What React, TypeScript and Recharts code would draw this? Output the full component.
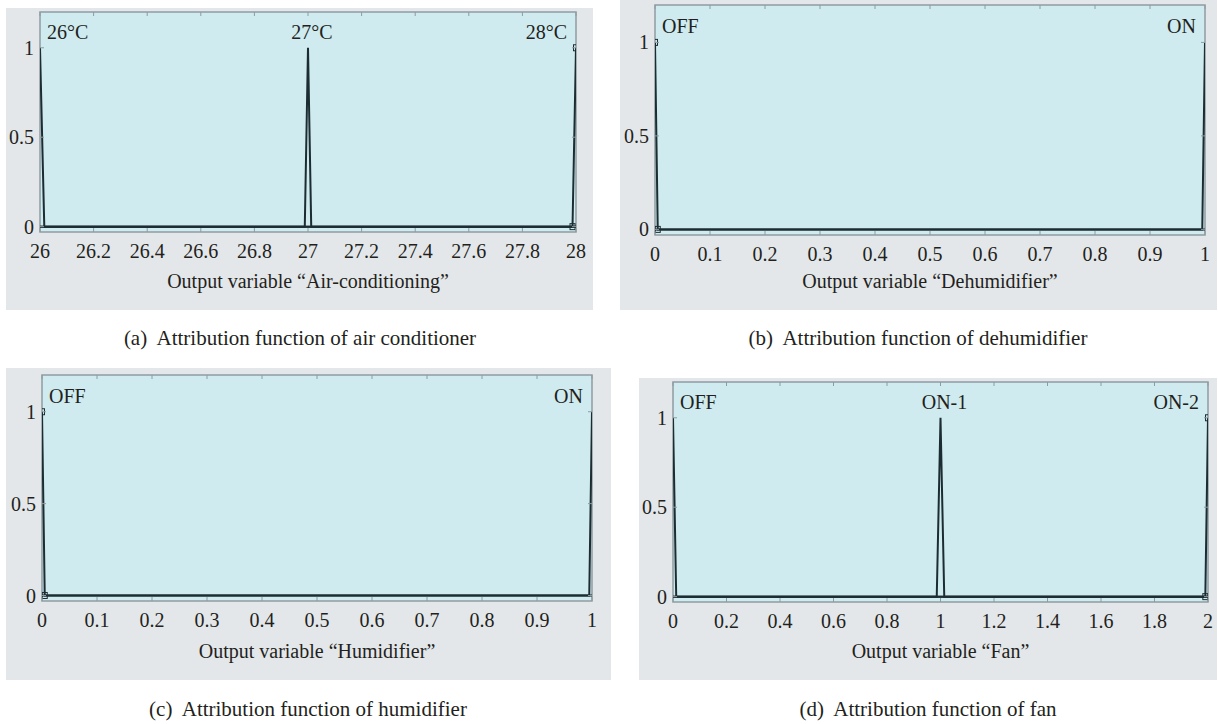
import React from "react";
import { LineChart, Line, XAxis, YAxis, ReferenceArea, ReferenceDot } from "recharts";

const FONT = '"Liberation Serif", "Times New Roman", serif';
const PANEL_BG = "#e4e7ea";
const PLOT_BG = "#cfebf0";
const BORDER = "#8e9ca1";
const INK = "#1c2d32";
const TEXT = "#231f20";

type Pt = { x: number; y: number };

// shared y axis
const yTicks = [0, 0.5, 1];
const yMin = -0.03;
const yMax = 1.2;

// (a) air conditioner
const acTicks = [26, 26.2, 26.4, 26.6, 26.8, 27, 27.2, 27.4, 27.6, 27.8, 28];
const acNames = ["26°C", "27°C", "28°C"];
const acPeaks = [26, 27, 28];
const ac26: Pt[] = [{ x: 26, y: 1 }, { x: 26.016, y: 0 }, { x: 28, y: 0 }];
const ac27: Pt[] = [{ x: 26, y: 0 }, { x: 26.988, y: 0 }, { x: 27, y: 1 }, { x: 27.012, y: 0 }, { x: 28, y: 0 }];
const ac28: Pt[] = [{ x: 26, y: 0 }, { x: 27.987, y: 0 }, { x: 28, y: 1 }];
const ac28Vertices: Pt[] = [{ x: 27.987, y: 0 }, { x: 28, y: 1 }];

// (b) dehumidifier
const unitTicks = [0, 0.1, 0.2, 0.3, 0.4, 0.5, 0.6, 0.7, 0.8, 0.9, 1];
const switchNames = ["OFF", "ON"];
const switchPeaks = [0, 1];
const dehumOff: Pt[] = [{ x: 0, y: 1 }, { x: 0.005, y: 0 }, { x: 1, y: 0 }];
const dehumOn: Pt[] = [{ x: 0, y: 0 }, { x: 0.995, y: 0 }, { x: 1, y: 1 }];
const dehumOffVertices: Pt[] = [{ x: 0, y: 1 }, { x: 0.005, y: 0 }];

// (c) humidifier
const humOff: Pt[] = [{ x: 0, y: 1 }, { x: 0.005, y: 0 }, { x: 1, y: 0 }];
const humOn: Pt[] = [{ x: 0, y: 0 }, { x: 0.995, y: 0 }, { x: 1, y: 1 }];
const humOffVertices: Pt[] = [{ x: 0, y: 1 }, { x: 0.005, y: 0 }];

// (d) fan
const fanTicks = [0, 0.2, 0.4, 0.6, 0.8, 1, 1.2, 1.4, 1.6, 1.8, 2];
const fanNames = ["OFF", "ON-1", "ON-2"];
const fanPeaks = [0, 1, 2];
const fanOff: Pt[] = [{ x: 0, y: 1 }, { x: 0.012, y: 0 }, { x: 2, y: 0 }];
const fanOn1: Pt[] = [{ x: 0, y: 0 }, { x: 0.986, y: 0 }, { x: 1, y: 1 }, { x: 1.014, y: 0 }, { x: 2, y: 0 }];
const fanOn2: Pt[] = [{ x: 0, y: 0 }, { x: 1.99, y: 0 }, { x: 2, y: 1 }];
const fanOn2Vertices: Pt[] = [{ x: 1.99, y: 0 }, { x: 2, y: 1 }];

const FONT_SIZE = 20;
const X_MARGIN = 12;
const Y_MARGIN = 6;
const TICK_LEN = 4;

interface Rect {
  left: number;
  top: number;
  width: number;
  height: number;
}

interface PanelProps {
  box: Rect;
  plot: Rect; // relative to box
  xTicks: number[];
  series: Pt[][];
  selected: Pt[];
  names: string[];
  peaks: number[];
  title: string;
}

// little square handles MATLAB draws on the selected membership function
const renderHandle = (p: any) => (
  <rect key={p.index} x={p.cx - 2.5} y={p.cy - 3} width={5} height={6} fill="none" stroke={INK} strokeWidth={1} />
);

const Panel = ({ box, plot, xTicks, series, selected, names, peaks, title }: PanelProps) => {
  const xMin = xTicks[0];
  const xMax = xTicks[xTicks.length - 1];
  const rightMargin = box.width - plot.left - plot.width;
  const axisH = box.height - plot.top - plot.height;

  const renderXTick = (p: any) => {
    const axisY = p.y - X_MARGIN;
    return (
      <g>
        <line x1={p.x} x2={p.x} y1={axisY} y2={axisY - TICK_LEN} stroke={BORDER} />
        <line x1={p.x} x2={p.x} y1={axisY - plot.height} y2={axisY - plot.height + TICK_LEN} stroke={BORDER} />
        <text x={p.x} y={p.y} dy="0.71em" textAnchor="middle" fill={TEXT} style={{ fontFamily: FONT, fontSize: FONT_SIZE }}>
          {p.payload.value}
        </text>
      </g>
    );
  };

  const renderYTick = (p: any) => {
    const axisX = p.x + Y_MARGIN;
    return (
      <g>
        <line x1={axisX} x2={axisX + TICK_LEN} y1={p.y} y2={p.y} stroke={BORDER} />
        <line x1={axisX + plot.width} x2={axisX + plot.width - TICK_LEN} y1={p.y} y2={p.y} stroke={BORDER} />
        <text x={p.x} y={p.y} dy="0.355em" textAnchor="end" fill={TEXT} style={{ fontFamily: FONT, fontSize: FONT_SIZE }}>
          {p.payload.value}
        </text>
      </g>
    );
  };

  return (
    <div style={{ position: "absolute", left: box.left, top: box.top, width: box.width, height: box.height, background: PANEL_BG }}>
      <LineChart width={box.width} height={box.height} margin={{ top: plot.top, right: rightMargin, bottom: 0, left: 0 }}>
        <ReferenceArea
          x1={xMin}
          x2={xMax}
          y1={yMin}
          y2={yMax}
          fill={PLOT_BG}
          fillOpacity={1}
          stroke={BORDER}
          strokeWidth={1.5}
          zIndex={-50}
        />
        <XAxis
          type="number"
          dataKey="x"
          domain={[xMin, xMax]}
          ticks={xTicks}
          interval={0}
          allowDataOverflow
          height={axisH}
          tickSize={0}
          tickMargin={X_MARGIN}
          axisLine={false}
          tickLine={false}
          tick={renderXTick}
          label={{ value: title, position: "insideBottom", offset: 22, fill: TEXT, style: { fontFamily: FONT, fontSize: FONT_SIZE } }}
        />
        <YAxis
          type="number"
          domain={[yMin, yMax]}
          ticks={yTicks}
          interval={0}
          allowDataOverflow
          width={plot.left}
          tickSize={0}
          tickMargin={Y_MARGIN}
          axisLine={false}
          tickLine={false}
          tick={renderYTick}
        />
        {series.map((pts, i) => (
          <Line
            key={i}
            data={pts}
            dataKey="y"
            type="linear"
            stroke={INK}
            strokeWidth={2}
            dot={false}
            isAnimationActive={false}
          />
        ))}
        <Line
          data={selected}
          dataKey="y"
          type="linear"
          stroke="none"
          dot={renderHandle}
          isAnimationActive={false}
        />
        {peaks.map((px, i) => {
          const anchor = px === xMin ? "start" : px === xMax ? "end" : "middle";
          const dx = px === xMin ? 7 : px === xMax ? -9 : 4;
          return (
            <ReferenceDot
              key={names[i]}
              x={px}
              y={1.05}
              r={0}
              shape={(p: any) => (
                <text x={p.cx + dx} y={p.cy} textAnchor={anchor} fill={TEXT} style={{ fontFamily: FONT, fontSize: FONT_SIZE }}>
                  {names[i]}
                </text>
              )}
            />
          );
        })}
      </LineChart>
    </div>
  );
};

const Caption = ({ text, center, top }: { text: string; center: number; top: number }) => (
  <div
    style={{
      position: "absolute",
      left: center - 300,
      width: 600,
      top,
      textAlign: "center",
      fontFamily: FONT,
      fontSize: 21,
      lineHeight: "20px",
      color: TEXT,
      whiteSpace: "pre",
    }}
  >
    {text}
  </div>
);

export default function App() {
  return (
    <div style={{ position: "absolute", left: 0, top: 0, width: 1218, height: 724, background: "#fff", overflow: "hidden" }}>
      <Panel
        box={{ left: 6, top: 8, width: 587, height: 302 }}
        plot={{ left: 34, top: 4, width: 536, height: 220 }}
        xTicks={acTicks}
        series={[ac26, ac27, ac28]}
        selected={ac28Vertices}
        names={acNames}
        peaks={acPeaks}
        title="Output variable “Air-conditioning”"
      />
      <Panel
        box={{ left: 620, top: 0, width: 597, height: 310 }}
        plot={{ left: 35, top: 5, width: 550, height: 230 }}
        xTicks={unitTicks}
        series={[dehumOff, dehumOn]}
        selected={dehumOffVertices}
        names={switchNames}
        peaks={switchPeaks}
        title="Output variable “Dehumidifier”"
      />
      <Panel
        box={{ left: 6, top: 368, width: 605, height: 312 }}
        plot={{ left: 36, top: 7, width: 550, height: 226 }}
        xTicks={unitTicks}
        series={[humOff, humOn]}
        selected={humOffVertices}
        names={switchNames}
        peaks={switchPeaks}
        title="Output variable “Humidifier”"
      />
      <Panel
        box={{ left: 639, top: 378, width: 578, height: 302 }}
        plot={{ left: 34, top: 4, width: 535, height: 220 }}
        xTicks={fanTicks}
        series={[fanOff, fanOn1, fanOn2]}
        selected={fanOn2Vertices}
        names={fanNames}
        peaks={fanPeaks}
        title="Output variable “Fan”"
      />
      <Caption text="(a)  Attribution function of air conditioner" center={300} top={328} />
      <Caption text="(b)  Attribution function of dehumidifier" center={918} top={328} />
      <Caption text="(c)  Attribution function of humidifier" center={308} top={699} />
      <Caption text="(d)  Attribution function of fan" center={928} top={699} />
    </div>
  );
}
